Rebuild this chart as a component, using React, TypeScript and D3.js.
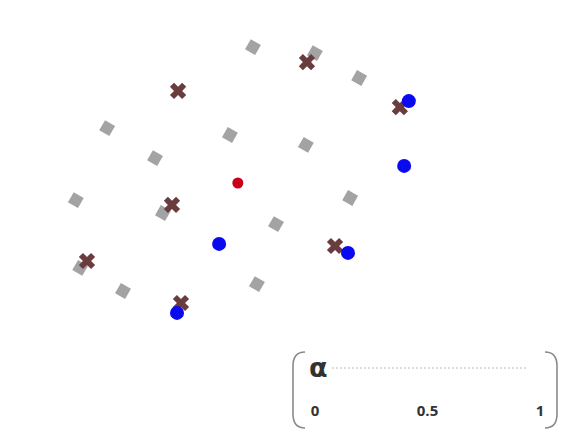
import React, { useEffect, useRef } from 'react';
import { select, scaleLinear, symbol, symbolSquare, symbolCross, path } from 'd3';

const width = 568;
const height = 442;

// gray squares [x, y]
const greyX = [5.36, 7.08, 8.31, 1.31, 4.72, 2.64, 6.83, 0.44, 2.86, 8.06, 6.0, 0.56, 1.75, 5.47];
const greyY = [9.43, 9.23, 8.4, 6.73, 6.5, 5.73, 6.17, 4.33, 3.9, 4.4, 3.53, 2.07, 1.3, 1.53];

// brown crosses
const crossX = [3.28, 6.86, 9.44, 3.11, 0.75, 7.64, 3.36];
const crossY = [7.97, 8.93, 7.43, 4.17, 2.3, 2.8, 0.9];

// blue points
const blueX = [9.69, 9.56, 4.42, 8.0, 3.25];
const blueY = [7.63, 5.47, 2.87, 2.57, 0.57];

// red centre
const redX = [4.94];
const redY = [4.9];

const alphaTicks = [0, 0.5, 1];
const alphaLabels = ['0', '0.5', '1'];

const App = () => {
  const svgRef = useRef(null);

  useEffect(() => {
    const svg = select(svgRef.current);
    svg.selectAll('*').remove();

    const xScale = scaleLinear().domain([0, 10]).range([60, 420]);
    const yScale = scaleLinear().domain([0, 10]).range([330, 30]);

    const content = svg.append('g');

    /* grey squares */
    content
      .selectAll('.grey')
      .data(greyX.map((x, i) => [x, greyY[i]]))
      .join('path')
      .attr('class', 'grey')
      .attr('d', symbol(symbolSquare, 135))
      .attr('fill', '#a3a3a3')
      .attr('transform', d => `translate(${xScale(d[0])},${yScale(d[1])}) rotate(30)`);

    /* crosses */
    content
      .selectAll('.cross')
      .data(crossX.map((x, i) => [x, crossY[i]]))
      .join('path')
      .attr('class', 'cross')
      .attr('d', symbol(symbolCross, 165))
      .attr('fill', '#6a3c3e')
      .attr('transform', d => `translate(${xScale(d[0])},${yScale(d[1])}) rotate(45)`);

    /* blue dots */
    content
      .selectAll('.blue')
      .data(blueX.map((x, i) => [x, blueY[i]]))
      .join('circle')
      .attr('class', 'blue')
      .attr('r', 7)
      .attr('fill', '#0a0af0')
      .attr('cx', d => xScale(d[0]))
      .attr('cy', d => yScale(d[1]));

    /* red dot */
    content
      .selectAll('.red')
      .data(redX.map((x, i) => [x, redY[i]]))
      .join('circle')
      .attr('class', 'red')
      .attr('r', 5.5)
      .attr('fill', '#c8001a')
      .attr('cx', d => xScale(d[0]))
      .attr('cy', d => yScale(d[1]));

    /* alpha slider legend */
    const legend = svg.append('g');
    const top = 352;
    const bottom = 428;
    const left = 293;
    const right = 557;

    const bracket = (x, dir) => {
      const p = path();
      p.moveTo(x + dir * 12, top);
      p.quadraticCurveTo(x, top, x, top + 14);
      p.lineTo(x, bottom - 14);
      p.quadraticCurveTo(x, bottom, x + dir * 12, bottom);
      return p.toString();
    };

    legend
      .selectAll('.bracket')
      .data([[left, 1], [right, -1]])
      .join('path')
      .attr('class', 'bracket')
      .attr('d', d => bracket(d[0], d[1]))
      .attr('fill', 'none')
      .attr('stroke', '#8a8a8a')
      .attr('stroke-width', 1.6);

    const aScale = scaleLinear().domain([0, 1]).range([315, 540]);

    legend
      .append('line')
      .attr('x1', 332)
      .attr('x2', 526)
      .attr('y1', 368)
      .attr('y2', 368)
      .attr('stroke', '#b8b8b8')
      .attr('stroke-width', 1)
      .attr('stroke-dasharray', '2,2');

    legend
      .append('text')
      .attr('x', 309)
      .attr('y', 377)
      .attr('font-family', 'DejaVu Sans')
      .attr('font-weight', 'bold')
      .attr('font-size', 27)
      .attr('fill', '#333')
      .text('α');

    legend
      .selectAll('.tick')
      .data(alphaTicks)
      .join('text')
      .attr('class', 'tick')
      .attr('x', d => aScale(d))
      .attr('y', 416)
      .attr('text-anchor', 'middle')
      .attr('font-family', 'Open Sans')
      .attr('font-weight', 'bold')
      .attr('font-size', 15)
      .attr('fill', '#333')
      .text((d, i) => alphaLabels[i]);
  }, []);

  return (
    <svg
      ref={svgRef}
      width={width}
      height={height}
      style={{ position: 'absolute', left: 0, top: 0, background: '#fff' }}
    />
  );
};

export default App;
